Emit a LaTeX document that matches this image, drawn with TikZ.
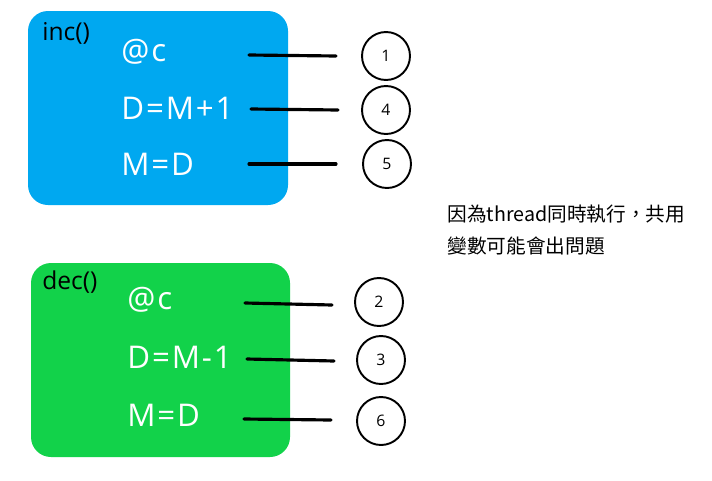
\documentclass[tikz,border=0pt]{standalone}
\usepackage{fontspec}
\setmainfont{Open Sans}
\newfontfamily\cjkfont{Noto Sans CJK TC}
\definecolor{incblue}{RGB}{0,168,240}
\definecolor{decgreen}{RGB}{18,210,74}
\tikzset{
	box/.style={rounded corners=0.4cm},
	stmt/.style={anchor=west,inner sep=0pt,text=white,font=\fontsize{17.8}{21}\selectfont\addfontfeature{LetterSpace=6}},
	fname/.style={anchor=west,inner sep=0pt,font=\fontsize{14}{16}\selectfont},
	order/.style={circle,draw,line width=1.1pt,minimum size=0.96cm,inner sep=0pt,font=\fontsize{9}{11}\selectfont},
	link/.style={line width=1.8pt,line cap=round}
}
\begin{document}
\begin{tikzpicture}[x=0.02cm,y=-0.02cm]
		\useasboundingbox (0,0) rectangle (712,480);
		\fill[box,incblue] (28,11) rectangle (288,205);
		\fill[box,decgreen] (31,263) rectangle (290,457);
		\node[fname] (inc) at (42,33) {inc()};
		\node[fname] (dec) at (42,282) {dec()};
		\node[stmt] (ic) at (121,52) {@c};
		\node[stmt] (iD) at (121,108) {D=M+1};
		\node[stmt] (iM) at (121,164) {M=D};
		\node[stmt] (dc) at (127,300) {@c};
		\node[stmt] (dD) at (127,357) {D=M-1};
		\node[stmt] (dM) at (127,415) {M=D};
		\node[order] (1) at (386,56) {1};
		\node[order] (4) at (386,110) {4};
		\node[order] (5) at (387,164) {5};
		\node[order] (2) at (379,302) {2};
		\node[order] (3) at (381,360) {3};
		\node[order] (6) at (381,421) {6};
		\coordinate (ic1) at (249,55);
		\coordinate (ic2) at (336,56);
		\coordinate (iD1) at (251,109);
		\coordinate (iD2) at (338,110);
		\coordinate (iM1) at (249,164);
		\coordinate (iM2) at (336,164);
		\coordinate (dc1) at (245,303);
		\coordinate (dc2) at (332,305);
		\coordinate (dD1) at (247,359);
		\coordinate (dD2) at (334,361);
		\coordinate (dM1) at (244,419);
		\coordinate (dM2) at (331,420);
		\draw[link] (ic1) -- (ic2);
		\draw[link] (iD1) -- (iD2);
		\draw[link] (iM1) -- (iM2);
		\draw[link] (dc1) -- (dc2);
		\draw[link] (dD1) -- (dD2);
		\draw[link] (dM1) -- (dM2);
		\node[anchor=west,inner sep=0pt,font=\cjkfont\fontsize{11.2}{13}\selectfont] (note1) at (447,214) {因為thread同時執行，共用};
		\node[anchor=west,inner sep=0pt,font=\cjkfont\fontsize{11.2}{13}\selectfont] (note2) at (447,246) {變數可能會出問題};
	\end{tikzpicture}
\end{document}
